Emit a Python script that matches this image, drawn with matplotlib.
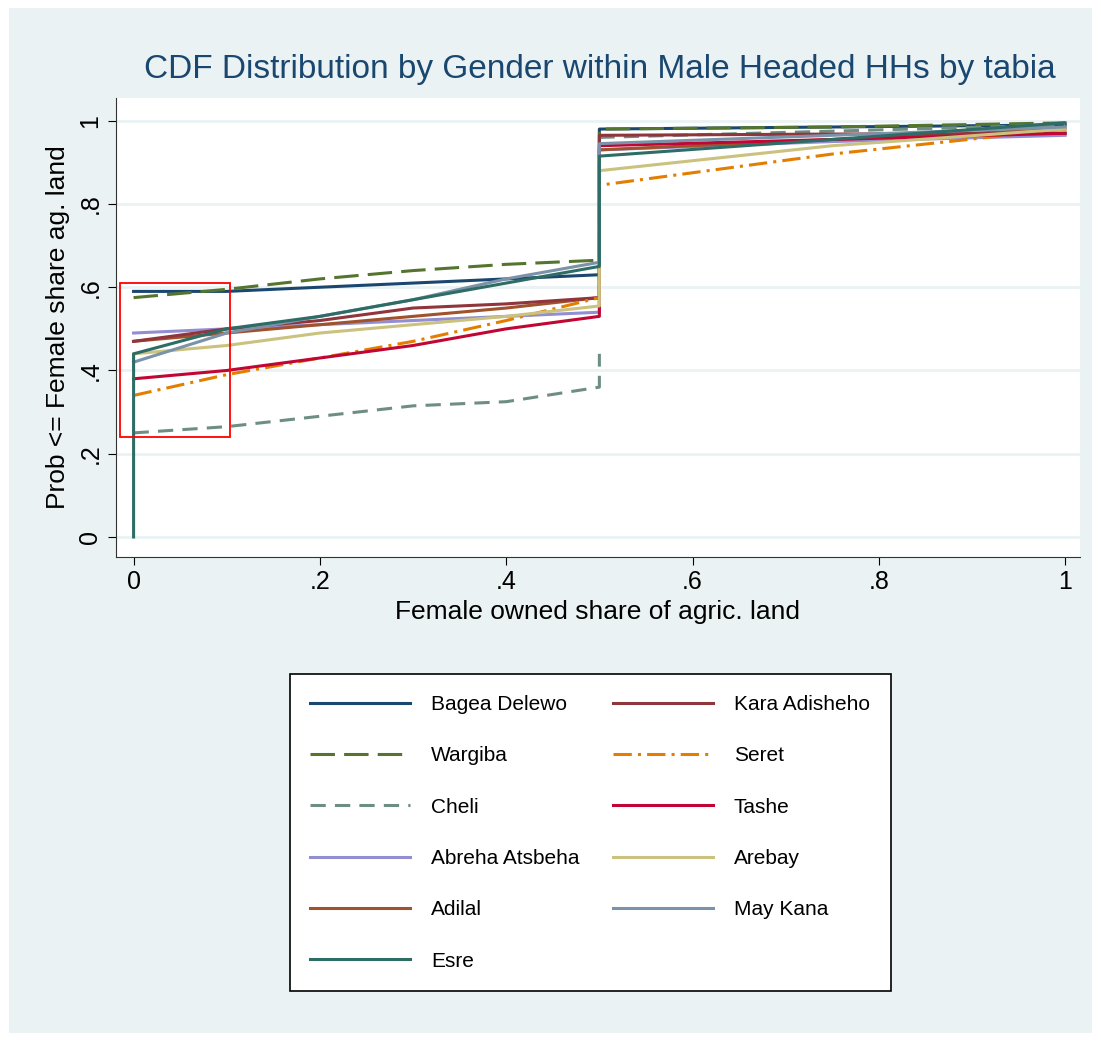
import numpy as np
import matplotlib
matplotlib.use("Agg")
import matplotlib.pyplot as plt
from matplotlib.patches import Rectangle

plt.rcParams["font.family"] = ["Liberation Sans", "DejaVu Sans"]

names = ["Bagea Delewo", "Wargiba", "Cheli", "Abreha Atsbeha", "Adilal", "Esre",
         "Kara Adisheho", "Seret", "Tashe", "Arebay", "May Kana"]
colors = ["#1a476f", "#55752f", "#6e8e84", "#938dd2", "#a0522d", "#2d6d66",
          "#90353b", "#e37e00", "#c10534", "#cac27e", "#7b92a8"]
styles = ["-", (0, (8, 3)), (0, (5, 3)), "-", "-", "-", "-", (0, (6, 2, 1, 2)), "-", "-", "-"]

x_low = [0, 0.1, 0.2, 0.3, 0.4, 0.5]
y_low = {
    "Bagea Delewo": [0.59, 0.59, 0.60, 0.61, 0.62, 0.63],
    "Wargiba": [0.575, 0.595, 0.62, 0.64, 0.655, 0.665],
    "Cheli": [0.25, 0.265, 0.29, 0.315, 0.325, 0.36],
    "Abreha Atsbeha": [0.49, 0.50, 0.51, 0.52, 0.53, 0.54],
    "Adilal": [0.47, 0.49, 0.51, 0.53, 0.55, 0.575],
    "Esre": [0.44, 0.50, 0.53, 0.57, 0.61, 0.65],
    "Kara Adisheho": [0.47, 0.50, 0.52, 0.55, 0.56, 0.575],
    "Seret": [0.34, 0.39, 0.43, 0.47, 0.52, 0.575],
    "Tashe": [0.38, 0.40, 0.43, 0.46, 0.50, 0.53],
    "Arebay": [0.44, 0.46, 0.49, 0.51, 0.53, 0.555],
    "May Kana": [0.42, 0.49, 0.53, 0.57, 0.62, 0.66],
}
x_high = [0.5, 0.75, 1.0]
y_high = {
    "Bagea Delewo": [0.98, 0.985, 0.99],
    "Wargiba": [0.98, 0.985, 0.995],
    "Cheli": [0.96, 0.975, 0.99],
    "Abreha Atsbeha": [0.93, 0.95, 0.965],
    "Adilal": [0.93, 0.955, 0.98],
    "Esre": [0.915, 0.955, 0.995],
    "Kara Adisheho": [0.965, 0.968, 0.97],
    "Seret": [0.845, 0.92, 0.98],
    "Tashe": [0.94, 0.955, 0.97],
    "Arebay": [0.88, 0.94, 0.98],
    "May Kana": [0.945, 0.965, 0.985],
}

fig = plt.figure(figsize=(11.01, 10.41), dpi=100)
fig.patch.set_facecolor("white")
fig.add_artist(Rectangle((0.008, 0.008), 0.984, 0.984, transform=fig.transFigure,
                         facecolor="#eaf2f3", edgecolor="none", zorder=-10))

ax = fig.add_axes([0.105, 0.465, 0.876, 0.441])
ax.set_facecolor("white")
for side in ["top", "right"]:
    ax.spines[side].set_visible(False)
for side in ["left", "bottom"]:
    ax.spines[side].set_color("#333333")

handles = []
for n, c, s in zip(names, colors, styles):
    if n == "Cheli":
        xs = x_low + [0.5, 0.5] + x_high
        ys = y_low[n] + [0.44, np.nan] + y_high[n]
    else:
        xs = [0] + x_low + x_high
        ys = [0 if n == "Esre" else y_low[n][0]] + y_low[n] + y_high[n]
    h, = ax.plot(xs, ys, color=c, linestyle=s, linewidth=2.2,
                 zorder=3 if n == "Esre" else 2)
    handles.append(h)

ax.add_patch(Rectangle((-0.015, 0.24), 0.119, 0.37, fill=False, edgecolor="red", linewidth=1.3, zorder=5))

ax.set_xlim(-0.0193, 1.016)
ax.set_ylim(-0.048, 1.055)
ax.set_xticks([0, 0.2, 0.4, 0.6, 0.8, 1])
ax.set_xticklabels(["0", ".2", ".4", ".6", ".8", "1"])
ax.set_yticks([0, 0.2, 0.4, 0.6, 0.8, 1])
ax.set_yticklabels(["0", ".2", ".4", ".6", ".8", "1"], rotation=90, va="center")
ax.yaxis.grid(True, color="#eaf2f3", linewidth=2)
ax.set_axisbelow(True)
ax.tick_params(labelsize=18, length=6)
ax.set_xlabel("Female owned share of agric. land", fontsize=19, labelpad=4)
ax.set_ylabel("Prob <= Female share ag. land", fontsize=19, labelpad=6)

fig.text(0.545, 0.933, "CDF Distribution by Gender within Male Headed HHs by tabia",
         ha="center", va="center", fontsize=24, color="#1a476f")

leg = fig.legend(handles, names, ncol=2, loc="center", bbox_to_anchor=(0.536, 0.2),
                 fontsize=15, handlelength=4.8, labelspacing=1.55, columnspacing=1.6,
                 handletextpad=1.0, borderpad=1.0, fancybox=False, framealpha=1)
leg.get_frame().set_edgecolor("black")
leg.get_frame().set_linewidth(1.2)

fig.savefig("out.png", dpi=100)
